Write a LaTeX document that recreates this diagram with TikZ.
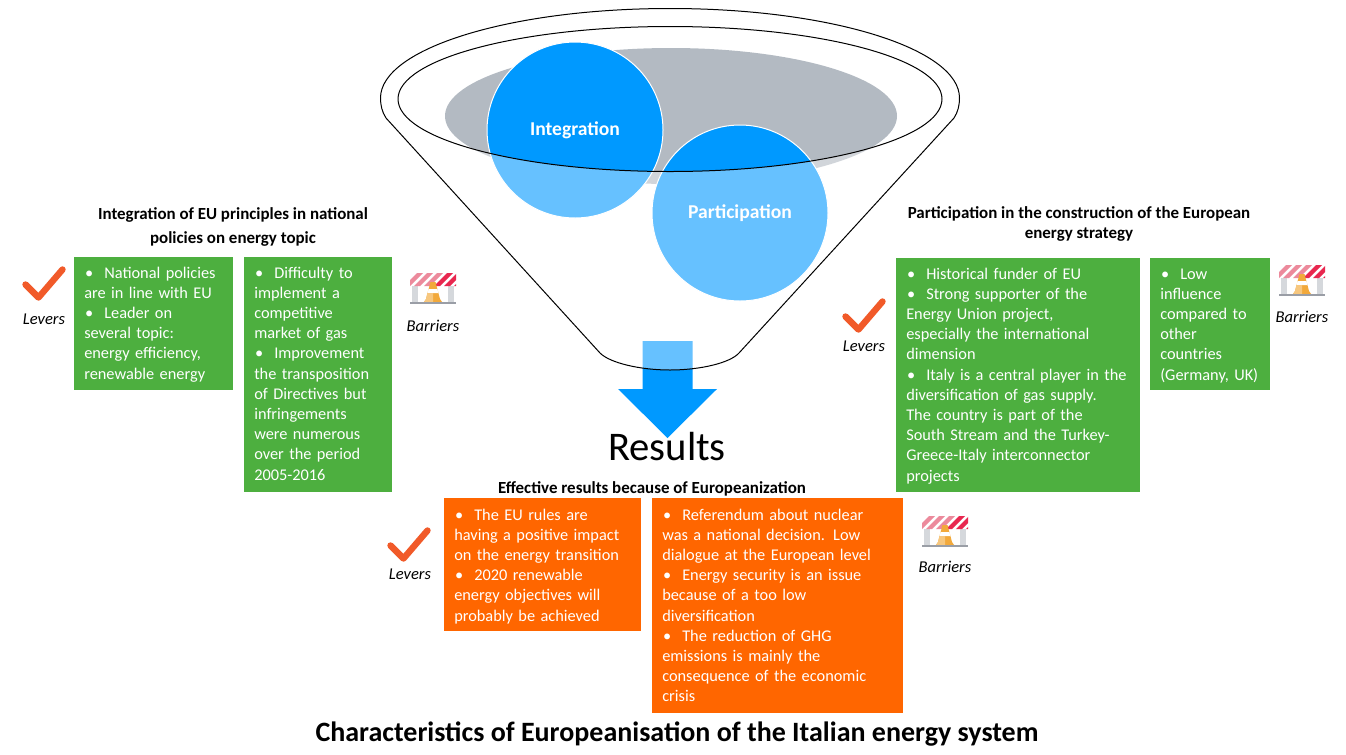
\documentclass[tikz,border=0pt]{standalone}
\usepackage{fontspec}
\setmainfont{Carlito}
\definecolor{bluedark}{HTML}{0099FF}
\definecolor{greyfill}{HTML}{B3BAC2}
\definecolor{boxgreen}{HTML}{4DAF3F}
\definecolor{boxorange}{HTML}{FF6600}
\definecolor{tickred}{HTML}{F15A29}
\definecolor{stripedark}{HTML}{E8274F}
\definecolor{stripelight}{HTML}{EC8A9C}
\definecolor{conedark}{HTML}{F2A93B}
\definecolor{conelight}{HTML}{F7C77E}
\definecolor{postgrey}{HTML}{D5D8DC}
\definecolor{basegrey}{HTML}{9A9EA6}
\newcommand{\bi}{\makebox[15pt][l]{\hspace{0.7pt}•}}
\newcommand{\bxtop}[1]{\rule{0pt}{#1pt}}
\newcommand{\bxbot}[1]{\rule[-#1pt]{0pt}{#1pt}}
\tikzset{
  x=0.75pt,y=-0.75pt,
  listbox/.style={anchor=north west,inner xsep=7.5pt,inner ysep=0pt,align=left,text=white,
    font=\fontsize{12.25}{15.13}\selectfont},
  greenbox/.style={listbox,fill=boxgreen},
  orangebox/.style={listbox,fill=boxorange},
  heading/.style={align=center,font=\bfseries\fontsize{12.7}{15}\selectfont},
  sidelabel/.style={font=\itshape\fontsize{12.4}{15}\selectfont},
  bubble/.style={circle,draw=white,line width=0.75pt,fill=bluedark,minimum size=132pt,inner sep=0pt,text=white,
    font=\bfseries\fontsize{14.7}{16}\selectfont},
  rim/.style={draw=black,line width=0.75pt},
  tick/.pic={
    \draw[tickred,line width=4.8pt,line cap=round,line join=round] (4,20) -- (17,33) -- (41,5);
  },
  barrier/.pic={
    \fill[postgrey] (2,13) rectangle (8,29);
    \fill[postgrey] (38,13) rectangle (44,29);
    \begin{scope}
      \clip (0,0) rectangle (46,13);
      \fill[white] (0,0) rectangle (46,13);
      \foreach \s in {-6,4,14}{\fill[stripelight] (\s,13) -- (\s+6,13) -- (\s+19,0) -- (\s+13,0) -- cycle;}
      \foreach \s in {24,34,44}{\fill[stripedark] (\s,13) -- (\s+6,13) -- (\s+19,0) -- (\s+13,0) -- cycle;}
    \end{scope}
    \fill[conedark] (20.5,9) -- (25.5,9) -- (30,26) -- (32,29) -- (14,29) -- (16,26) -- cycle;
    \fill[white] (18.6,16) -- (27.4,16) -- (28.4,20) -- (17.6,20) -- cycle;
    \fill[conelight] (14,29) -- (16,26) -- (17.4,20) -- (23,20) -- (23,29) -- cycle;
    \fill[basegrey] (0,29) rectangle (46,31);
  }
}
\begin{document}
\begin{tikzpicture}
\useasboundingbox (0,0) rectangle (1346,754);
\fill[white] (0,0) rectangle (1346,754);

% funnel contents
\fill[greyfill] (671,116) ellipse [x radius=226,y radius=68];
\node[bubble] (integration) at (575,130) {\raisebox{-0.8pt}{Integration}};
\node[bubble] (participation) at (740,213) {\raisebox{0pt}{Participation}};
\fill[bluedark] (642.5,341) -- (692.5,341) -- (692.5,389) -- (717,389) -- (667.5,438) -- (618,389) -- (642.5,389) -- cycle;

% translucent front of the funnel
\fill[white,opacity=0.4,even odd rule]
  (386,118) .. controls (382,112) and (380.5,105) .. (380.5,98)
  .. controls (380.5,48.6) and (510,8.5) .. (670,8.5)
  .. controls (830,8.5) and (959.5,48.6) .. (959.5,98)
  .. controls (959.5,105) and (958,112) .. (954,118)
  -- (739,353) .. controls (730,363) and (700,370) .. (670,370)
  .. controls (640,370) and (610,363) .. (600,353) -- cycle
  (670,99) ellipse [x radius=272,y radius=72.5];
\draw[rim]
  (386,118) .. controls (382,112) and (380.5,105) .. (380.5,98)
  .. controls (380.5,48.6) and (510,8.5) .. (670,8.5)
  .. controls (830,8.5) and (959.5,48.6) .. (959.5,98)
  .. controls (959.5,105) and (958,112) .. (954,118)
  -- (739,353) .. controls (730,363) and (700,370) .. (670,370)
  .. controls (640,370) and (610,363) .. (600,353) -- cycle;
\draw[rim] (670,99) ellipse [x radius=272,y radius=72.5];

% headings
\node[heading] (headleft1) at (233,215) {Integration of EU principles in national};
\node[heading] (headleft2) at (233,239) {policies on energy topic};
\node[heading] (headright) at (1079,224) {Participation in the construction of the European\\energy strategy};
\node[heading] (headmid) at (652,489) {Effective results because of Europeanization};
\node[font=\fontsize{30.5}{32}\selectfont] (results) at (667,447) {Results};
\node[font=\bfseries\fontsize{21}{24}\selectfont] (title) at (677,734.5) {Characteristics of Europeanisation of the Italian energy system};

% boxes
\node[greenbox,text width=104.25pt] (g1) at (74,257) {\bxtop{15.75}%
\bi National policies\\are in line with EU\\\bi Leader on\\several topic:\\energy efficiency,\\renewable energy\bxbot{8.35}};
\node[greenbox,text width=96pt] (g2) at (244,257) {\bxtop{15.75}%
\bi Difficulty to\\implement a\\competitive\\market of gas\\\bi Improvement\\the transposition\\of Directives but\\infringements\\were numerous\\over the period\\2005-2016\bxbot{9.2}};
\node[greenbox,text width=168pt] (g3) at (896,258) {\bxtop{15.75}%
\bi Historical funder of EU\\\bi Strong supporter of the\\Energy Union project,\\especially the international\\dimension\\\bi Italy is a central player in the\\diversification of gas supply.\\The country is part of the\\South Stream and the Turkey-\\Greece-Italy interconnector\\projects\bxbot{8.45}};
\node[greenbox,text width=75pt] (g4) at (1150,258) {\bxtop{15.75}%
\bi Low\\influence\\compared to\\other\\countries\\(Germany, UK)\bxbot{7.6}};
\node[orangebox,text width=132.75pt] (o1) at (444,498) {\bxtop{16.5}%
\bi The EU rules are\\having a positive impact\\on the energy transition\\\bi 2020 renewable\\energy objectives will\\probably be achieved\bxbot{7.6}};
\node[orangebox,text width=173.25pt] (o2) at (652,498) {\bxtop{16.5}%
\bi Referendum about nuclear\\was a national decision. Low\\dialogue at the European level\\\bi Energy security is an issue\\because of a too low\\diversification\\\bi The reduction of GHG\\emissions is mainly the\\consequence of the economic\\crisis\bxbot{8.6}};

% levers
\pic at (21.5,264.5) {tick};
\pic at (841.5,296.5) {tick};
\pic at (386.5,525.5) {tick};
\node[sidelabel] (lev1) at (44,319) {Levers};
\node[sidelabel] (lev2) at (864,346) {Levers};
\node[sidelabel] (lev3) at (410,574) {Levers};

% barriers
\pic at (410,273) {barrier};
\pic at (1279,265) {barrier};
\pic at (922,516) {barrier};
\node[sidelabel] (bar1) at (433,326) {Barriers};
\node[sidelabel] (bar2) at (1302,317) {Barriers};
\node[sidelabel] (bar3) at (945,567) {Barriers};
\end{tikzpicture}
\end{document}
